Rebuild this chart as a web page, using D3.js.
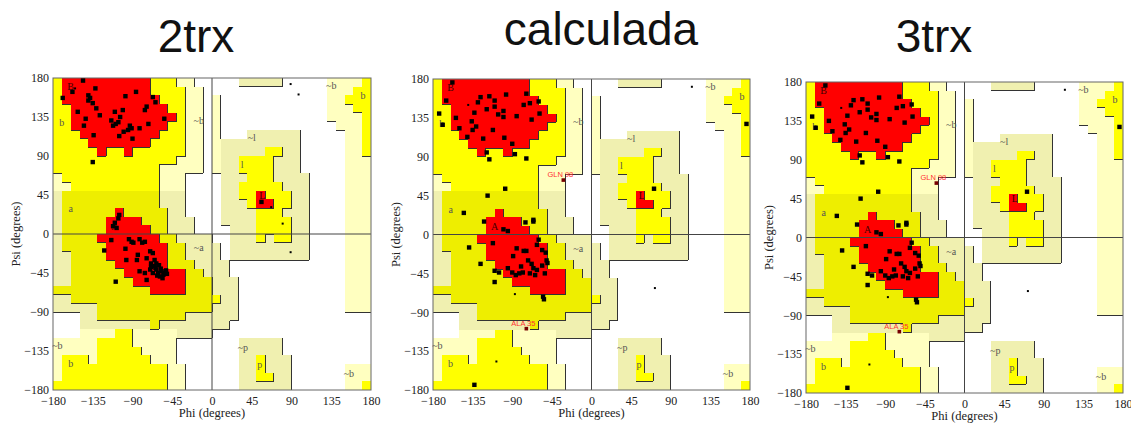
<!DOCTYPE html>
<html>
<head>
<meta charset="utf-8">
<script src="https://cdnjs.cloudflare.com/ajax/libs/d3/7.8.5/d3.min.js"></script>
<style>
  body { margin: 0; background: #fff; }
  svg { display: block; }
</style>
</head>
<body>
<svg id="chart" width="1131" height="424"></svg>
<script>
// three ramachandran plots side by side

var titles = ["2trx", "calculada", "3trx"];
var angleTicks = [-180, -135, -90, -45, 0, 45, 90, 135, 180];

// 10 degree cells, first row is psi 170..180, first column phi -180..-170
// R core, Y/y allowed, G/g generous, . disallowed
var regionRows = [
  "YRRRRRRRRRRYYYGG.." + "...ggggg.....GGGGY",
  "YRRRRRRRRRRYYYYGG." + ".............GGGYY",
  "YRRRRRRRRRRRYYYGG." + "G............GGYYY",
  "YYRRRRRRRRRRRYYGG." + "G............GGGYY",
  "YYRRRRRRRRRRRRYGG." + "G............GGGGY",
  "YYRRRRRRRRRRRYYGG." + "G.............GGGY",
  "YYYRRRRRRRRRYYYGG." + "G...gggggg.....GGY",
  "YYYYRRRRRRRYYYYGG." + "Gggggggggg.....GGY",
  "YYYYYRYYRYYYYYYGG." + "GgggggYYgg.....GGY",
  "YYYYYYYYYYYYYYGGG." + "GggYYYYggg.....GGG",
  "YYYYYYYYYYYYGGGGG." + "GggYYYYggg.....GGG",
  "GYYYYYYYYYYYGGG..." + ".gggYYYgggg....GGG",
  "GGYYYYYYYYYYGGG..." + ".ggYYYYYggg....GGG",
  "gyyyyyyyyyyyggg..." + ".ggYYRYYYgg....GGG",
  "gyyyyyyyyyyyggg..." + ".gggYRRYYgg....GGG",
  "gyyyyyyRyyyyygg..." + ".ggggYYYggg....GGG",
  "gyyyyyRRRRyyyggg.." + ".ggggYYYYgg....GGG",
  "gyyyyyRRRRRyyggg.." + "..gggYYYYgg....GGG",
  "gyyyyRRRRRRRyygggg" + "..gggYgYYgg....GGG",
  "gyyyyyRRRRRRRyyggg" + "g.ggggggggg....GGG",
  "ggyyyyRRRRRRRyyggg" + "g.ggggggggg....GGG",
  "ggyyyyyRRRRRRyyygg" + "gg.............GGG",
  "ggyyyyyyRRRRRRRyyg" + "gg.............GGG",
  "ggyyyyyyyRRRRRRyyy" + "ggg............GGG",
  "yyyyyyyyyyyRRRRyyy" + "ggg............GGG",
  "ggyyyyyyyyyyyyyyyy" + "Ygg............GGG",
  "gggggyyyyyyyyyyyyy" + "ggg............GGG",
  "...ggyyyyyyyyyyggg" + "ggg...............",
  "...ggggggggygggggg" + "gg................",
  "...GGGGYYGGGGGgggg" + "..................",
  "GGGGGYYYYGGGGG...." + "...ggggg..........",
  "GGGGGYYYYYGGGG...." + "...ggggg..........",
  "GYYYGYYYYYYGGG...." + "...ggYggg.........",
  "GYYYYYYYYYYYYGG..." + "...ggYggg......GGG",
  "GYYYYYYYYYYYYGG..." + "...ggYYgg......GGG",
  "YYYYYYYYYYYYYGG..." + "...gggggg......GGY"
];

var regionLabels = [
  ["B", -160, 170], ["b", -170, 129], ["~b", -15, 131], ["~l", 45, 111],
  ["l", 34, 80], ["L", 57, 45], ["a", -160, 29], ["A", -110, 9],
  ["~a", -15, -16], ["~b", -175, -129], ["b", -160, -149], ["~p", 35, -131],
  ["p", 54, -150], ["~b", 155, -161], ["~b", 135, 171], ["b", 171, 160]
];

// [phi, psi, big square]
var residues2trx = [
  [-146, 177, 1], [-169, 157, 1], [-158, 164, 1], [-152, 141, 1], [-143, 133, 1],
  [-145, 125, 1], [-140, 160, 1], [-138, 157, 1], [-140, 154, 1], [-135, 151, 1],
  [-132, 168, 1], [-127, 137, 1], [-131, 145, 1], [-134, 114, 1], [-110, 141, 1],
  [-109, 127, 1], [-112, 125, 1], [-106, 129, 1], [-104, 135, 1], [-101, 143, 1],
  [-98, 159, 1], [-86, 164, 1], [-74, 147, 1], [-76, 143, 1], [-72, 127, 1],
  [-67, 158, 1], [-64, 152, 1], [-54, 133, 1], [-82, 122, 1], [-91, 122, 1],
  [-95, 120, 1], [-100, 118, 1], [-105, 113, 1], [-90, 110, 1], [-135, 83, 1],
  [-114, 131, 1], [-93, 125, 1], [-155, 168, 0],
  [-106, 18, 1], [-110, 13, 1], [-112, 9, 1], [-108, 7, 1], [-105, 22, 1],
  [-114, -7, 1], [-122, -19, 1], [-98, -17, 1], [-91, -9, 1], [-94, -6, 1],
  [-82, -6, 1], [-79, -10, 1], [-76, -9, 1], [-89, -10, 1], [-97, -30, 1],
  [-85, -30, 1], [-84, -24, 1], [-74, -28, 1], [-70, -20, 1], [-67, -22, 1],
  [-69, -34, 1], [-65, -37, 1], [-63, -41, 1], [-61, -45, 1], [-57, -43, 1],
  [-55, -47, 1], [-54, -45, 1], [-59, -49, 1], [-67, -45, 1], [-70, -41, 1],
  [-76, -45, 1], [-82, -43, 1], [-63, -34, 1], [-64, -39, 1], [-109, -55, 1],
  [-74, -53, 1], [-60, -36, 1], [-58, -40, 1], [-65, -30, 1], [-51, -46, 1],
  [-56, -51, 1], [-69, -38, 1], [-62, -48, 1], [-52, -42, 1],
  [56, 37, 1], [67, 31, 0], [80, 12, 0], [89, -21, 0], [89, 173, 0], [98, 161, 0]
];

var residuesCalc = [
  [-158, 176, 1], [-165, 155, 1], [-173, 140, 1], [-169, 127, 1], [-154, 135, 1],
  [-150, 123, 1], [-141, 113, 1], [-136, 131, 1], [-131, 125, 1], [-133, 141, 1],
  [-129, 153, 1], [-126, 159, 1], [-119, 145, 1], [-116, 160, 1], [-110, 155, 1],
  [-110, 148, 1], [-106, 139, 1], [-100, 143, 1], [-100, 136, 1], [-97, 162, 1],
  [-85, 137, 1], [-74, 163, 1], [-77, 150, 1], [-70, 152, 1], [-60, 154, 1],
  [-59, 140, 1], [-68, 133, 1], [-74, 88, 1], [-87, 93, 1], [-90, 105, 1],
  [-99, 112, 1], [-112, 121, 1], [-123, 111, 1], [-119, 95, 1], [-116, 87, 1],
  [-135, 121, 1], [-140, 150, 0],
  [-98, 53, 1], [-118, 45, 1], [-145, 25, 1], [-122, 15, 1], [-75, 14, 1],
  [-66, 15, 1], [-66, 17, 1], [-100, 6, 1], [-95, 4, 1], [-139, -15, 1],
  [-126, -34, 1], [-112, -10, 1], [-110, -42, 1], [-110, -55, 1], [-105, -44, 1],
  [-95, -39, 1], [-89, -25, 1], [-85, -16, 1], [-86, -47, 1], [-77, -19, 1],
  [-74, -19, 1], [-72, -30, 1], [-68, -34, 1], [-62, -12, 1], [-60, -6, 1],
  [-56, -18, 1], [-52, -21, 1], [-51, -30, 1], [-50, -33, 1], [-53, -45, 1],
  [-62, -41, 1], [-66, -39, 1], [-78, -44, 1], [-82, -45, 1], [-80, -37, 1],
  [-70, -45, 1], [-56, -36, 1], [-64, -47, 1], [-90, -44, 1], [-87, -69, 0],
  [-55, -72, 1], [-54, -75, 1], [-108, -147, 0], [-133, -174, 1],
  [71, 53, 1], [72, -62, 0], [114, 171, 0], [176, 128, 1]
];

// the 3trx panel shows the same points as the calculated one
var residues3trx = residuesCalc;

// residues outside the allowed regions, labelled in red
var flaggedCalc = [["GLN 98", -32, 63], ["ALA 35", -74, -109]];
var flagged3trx = flaggedCalc;

var regionColors = { R: "#ff0000", Y: "#ffff00", y: "#eeee00", G: "#ffffc0", g: "#f0f0b0" };
var regionLevel = { R: 3, Y: 2, y: 2, G: 1, g: 1, ".": 0 };

var panels = [
  { title: titles[0], dots: residues2trx, flags: [], x0: 53, x1: 371, y0: 78, y1: 390, tx: 196, ty: 52 },
  { title: titles[1], dots: residuesCalc, flags: flaggedCalc, x0: 433, x1: 750, y0: 79, y1: 390, tx: 601, ty: 45 },
  { title: titles[2], dots: residues3trx, flags: flagged3trx, x0: 806, x1: 1123, y0: 82, y1: 393, tx: 934, ty: 52 }
];

var svg = d3.select("#chart");
panels.forEach(function(p) { drawPanel(svg, p); });

function drawPanel(svg, p) {
  var x = d3.scaleLinear().domain([-180, 180]).range([p.x0, p.x1]);
  var y = d3.scaleLinear().domain([-180, 180]).range([p.y1, p.y0]);
  var g = svg.append("g");

  drawRegions(g, x, y);
  drawEdges(g, x, y);

  // zero lines and frame
  g.append("line").attr("x1", x(0)).attr("x2", x(0)).attr("y1", y(-180)).attr("y2", y(180))
    .attr("stroke", "#444").attr("stroke-width", 1);
  g.append("line").attr("x1", x(-180)).attr("x2", x(180)).attr("y1", y(0)).attr("y2", y(0))
    .attr("stroke", "#444").attr("stroke-width", 1);
  g.append("rect").attr("x", x(-180)).attr("y", y(180))
    .attr("width", x(180) - x(-180)).attr("height", y(-180) - y(180))
    .attr("fill", "none").attr("stroke", "#666").attr("stroke-width", 1);

  // region letters
  g.selectAll(".rlab").data(regionLabels).enter().append("text")
    .attr("x", function(d) { return x(d[1]); })
    .attr("y", function(d) { return y(d[2]); })
    .attr("text-anchor", "middle").attr("dy", "0.35em")
    .attr("font-family", "Liberation Serif").attr("font-size", 10)
    .attr("fill", function(d) { return d[0] == "B" || d[0] == "A" || d[0] == "L" ? "#400" : "#555"; })
    .text(function(d) { return d[0]; });

  // residues
  g.selectAll(".res").data(p.dots).enter().append("rect")
    .attr("x", function(d) { return x(d[0]) - (d[2] ? 2.2 : 1); })
    .attr("y", function(d) { return y(d[1]) - (d[2] ? 2.2 : 1); })
    .attr("width", function(d) { return d[2] ? 4.4 : 2; })
    .attr("height", function(d) { return d[2] ? 4.4 : 2; })
    .attr("fill", "#000");

  p.flags.forEach(function(f) {
    g.append("rect").attr("x", x(f[1]) - 1.8).attr("y", y(f[2]) - 1.8)
      .attr("width", 3.6).attr("height", 3.6).attr("fill", "#700");
    g.append("text").attr("x", x(f[1]) - 3).attr("y", y(f[2]) - 3)
      .attr("text-anchor", "middle").attr("font-family", "Liberation Sans")
      .attr("font-size", 7.5).attr("fill", "#ff3030").text(f[0]);
  });

  // axes
  var xAxis = d3.axisBottom(x).tickValues(angleTicks).tickSize(0).tickPadding(6);
  var yAxis = d3.axisLeft(y).tickValues(angleTicks).tickSize(0).tickPadding(4);
  var ax = g.append("g").attr("transform", "translate(0," + p.y1 + ")").call(xAxis);
  var ay = g.append("g").attr("transform", "translate(" + p.x0 + ",0)").call(yAxis);
  [ax, ay].forEach(function(a) {
    a.select(".domain").remove();
    a.selectAll("text").attr("font-family", "Liberation Serif").attr("font-size", 12).attr("fill", "#222");
  });

  g.append("text").attr("x", (p.x0 + p.x1) / 2).attr("y", p.y1 + 27)
    .attr("text-anchor", "middle").attr("font-family", "Liberation Serif")
    .attr("font-size", 12.5).attr("fill", "#222").text("Phi (degrees)");
  g.append("text")
    .attr("transform", "translate(" + (p.x0 - 33) + "," + ((p.y0 + p.y1) / 2) + ") rotate(-90)")
    .attr("text-anchor", "middle").attr("font-family", "Liberation Serif")
    .attr("font-size", 12.5).attr("fill", "#222").text("Psi (degrees)");

  g.append("text").attr("x", p.tx).attr("y", p.ty).attr("text-anchor", "middle")
    .attr("font-family", "Liberation Sans").attr("font-size", 46).attr("fill", "#111")
    .text(p.title);
}

function drawRegions(g, x, y) {
  regionRows.forEach(function(row, r) {
    var c = 0;
    while (c < 36) {
      var ch = row[c], start = c;
      while (c < 36 && row[c] === ch) c++;
      if (ch === ".") continue;
      g.append("rect")
        .attr("x", x(-180 + start * 10))
        .attr("y", y(180 - r * 10))
        .attr("width", x(-180 + c * 10) - x(-180 + start * 10))
        .attr("height", y(170 - r * 10) - y(180 - r * 10))
        .attr("fill", regionColors[ch])
        .attr("shape-rendering", "crispEdges");
    }
  });
}

// dark line on the right and lower side of each region, like the original
function drawEdges(g, x, y) {
  var path = "";
  for (var r = 0; r < 36; r++) {
    for (var c = 0; c < 36; c++) {
      var lv = regionLevel[regionRows[r][c]];
      if (c < 35 && lv > regionLevel[regionRows[r][c + 1]]) {
        path += "M" + x(-170 + c * 10) + "," + y(180 - r * 10) + "V" + y(170 - r * 10);
      }
      if (r < 35 && lv > regionLevel[regionRows[r + 1][c]]) {
        path += "M" + x(-180 + c * 10) + "," + y(170 - r * 10) + "H" + x(-170 + c * 10);
      }
    }
  }
  g.append("path").attr("d", path).attr("fill", "none")
    .attr("stroke", "#333").attr("stroke-width", 1).attr("shape-rendering", "crispEdges");
}
</script>
</body>
</html>
